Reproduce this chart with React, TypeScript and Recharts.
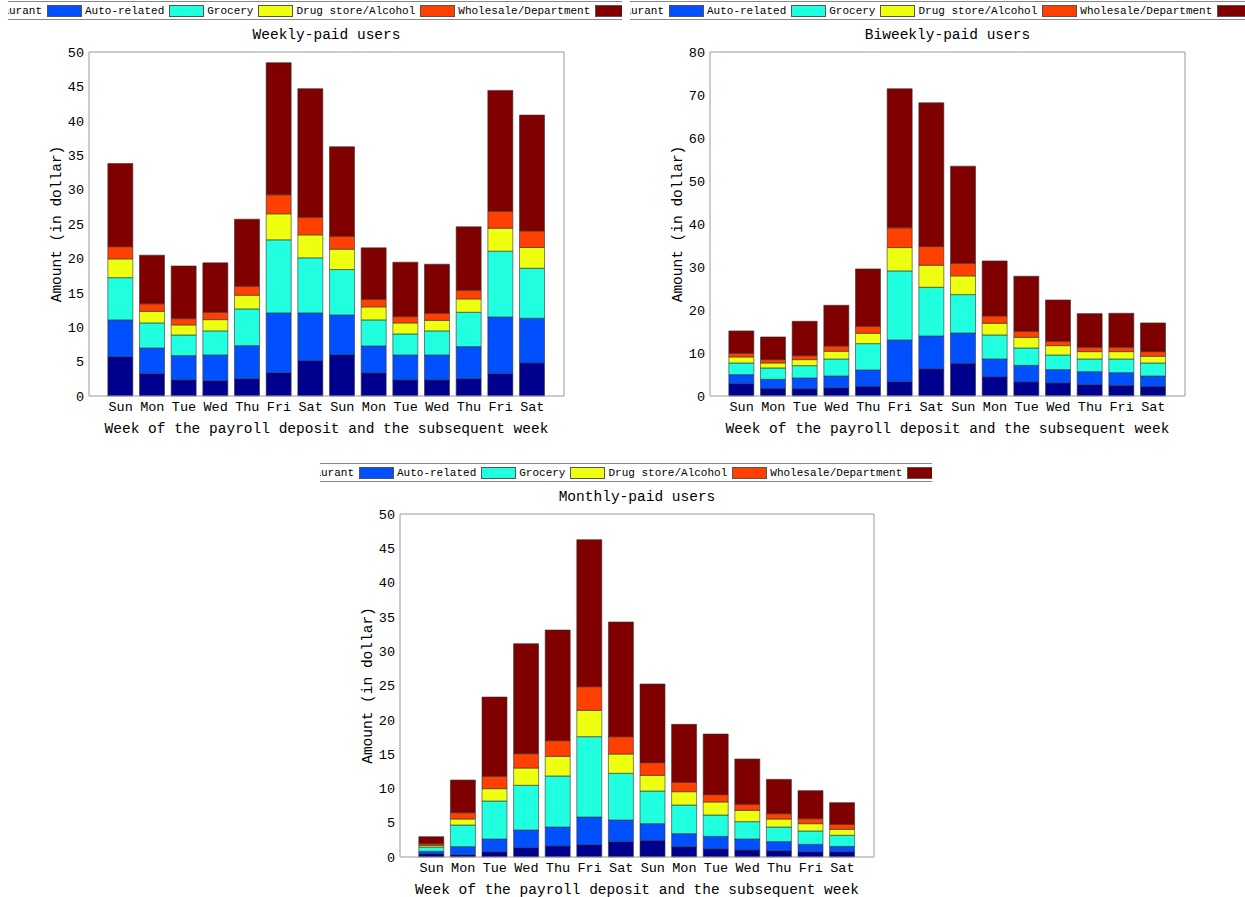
import { BarChart, Bar, XAxis, YAxis } from "recharts";

const FONT = "'Liberation Mono', 'DejaVu Sans Mono', monospace";
const FRAME = "#999";

const days = ["Sun", "Mon", "Tue", "Wed", "Thu", "Fri", "Sat", "Sun", "Mon", "Tue", "Wed", "Thu", "Fri", "Sat"];
const categories = ["Restaurant", "Auto-related", "Grocery", "Drug store/Alcohol", "Wholesale/Department", "Others"];
const colors = ["#00008f", "#0050ff", "#20ffdf", "#efff10", "#ff4000", "#800000"];

// weekly-paid users
const weeklyRestaurant = [5.72, 3.25, 2.33, 2.23, 2.52, 3.4, 5.14, 6.01, 3.35, 2.33, 2.33, 2.52, 3.25, 4.8];
const weeklyAuto = [5.34, 3.73, 3.54, 3.74, 4.8, 8.68, 6.94, 5.77, 3.92, 3.64, 3.64, 4.66, 8.24, 6.5];
const weeklyGrocery = [6.14, 3.64, 3.0, 3.49, 5.34, 10.62, 8.0, 6.6, 3.79, 3.05, 3.49, 4.99, 9.56, 7.27];
const weeklyDrug = [2.73, 1.68, 1.46, 1.64, 1.99, 3.78, 3.34, 2.96, 1.89, 1.6, 1.54, 1.94, 3.34, 3.01];
const weeklyWholesale = [1.77, 1.1, 0.92, 1.07, 1.31, 2.76, 2.57, 1.89, 1.11, 0.92, 1.03, 1.26, 2.48, 2.42];
const weeklyOthers = [12.1, 7.07, 7.65, 7.18, 9.74, 19.21, 18.68, 13.0, 7.47, 7.91, 7.13, 9.22, 17.55, 16.83];

// biweekly-paid users
const biweeklyRestaurant = [2.87, 1.78, 1.71, 1.94, 2.25, 3.34, 6.28, 7.6, 4.42, 3.26, 3.03, 2.64, 2.48, 2.25];
const biweeklyAuto = [2.1, 2.1, 2.48, 2.71, 3.8, 9.69, 7.68, 7.06, 4.19, 3.88, 3.1, 3.02, 2.95, 2.4];
const biweeklyGrocery = [2.71, 2.64, 2.87, 3.96, 6.13, 16.06, 11.33, 8.92, 5.59, 4.03, 3.41, 2.95, 3.18, 3.03];
const biweeklyDrug = [1.4, 1.16, 1.4, 1.79, 2.41, 5.43, 5.12, 4.35, 2.71, 2.48, 2.17, 1.71, 1.71, 1.55];
const biweeklyWholesale = [0.85, 0.78, 0.93, 1.24, 1.62, 4.58, 4.35, 2.95, 1.71, 1.4, 1.01, 1.01, 1.01, 1.09];
const biweeklyOthers = [5.2, 5.27, 7.99, 9.46, 13.35, 32.35, 33.43, 22.57, 12.8, 12.8, 9.62, 7.83, 7.91, 6.67];

// monthly-paid users
const monthlyRestaurant = [0.49, 0.34, 0.78, 1.36, 1.6, 1.8, 2.24, 2.43, 1.51, 1.17, 1.02, 0.92, 0.78, 0.78];
const monthlyAuto = [0.34, 1.17, 1.84, 2.58, 2.77, 4.03, 3.15, 2.43, 1.89, 1.84, 1.6, 1.32, 1.07, 0.77];
const monthlyGrocery = [0.63, 3.15, 5.54, 6.51, 7.44, 11.71, 6.81, 4.76, 4.18, 3.11, 2.53, 2.13, 1.94, 1.61];
const monthlyDrug = [0.24, 0.88, 1.8, 2.52, 2.86, 3.84, 2.81, 2.28, 1.94, 1.9, 1.65, 1.17, 1.07, 0.87];
const monthlyWholesale = [0.24, 0.92, 1.8, 2.09, 2.29, 3.45, 2.53, 1.85, 1.36, 1.07, 0.88, 0.78, 0.73, 0.73];
const monthlyOthers = [1.02, 4.76, 11.56, 16.04, 16.13, 21.43, 16.72, 11.47, 8.46, 8.84, 6.61, 5.0, 4.08, 3.16];

const weeklyTicks = [0, 5, 10, 15, 20, 25, 30, 35, 40, 45, 50];
const biweeklyTicks = [0, 10, 20, 30, 40, 50, 60, 70, 80];
const monthlyTicks = [0, 5, 10, 15, 20, 25, 30, 35, 40, 45, 50];

function buildRows(series: number[][]) {
  return days.map((d, i) => {
    const row: Record<string, number | string> = { idx: i, day: d };
    series.forEach((s, k) => {
      row[`s${k}`] = s[i];
    });
    return row;
  });
}

const weeklyData = buildRows([weeklyRestaurant, weeklyAuto, weeklyGrocery, weeklyDrug, weeklyWholesale, weeklyOthers]);
const biweeklyData = buildRows([biweeklyRestaurant, biweeklyAuto, biweeklyGrocery, biweeklyDrug, biweeklyWholesale, biweeklyOthers]);
const monthlyData = buildRows([monthlyRestaurant, monthlyAuto, monthlyGrocery, monthlyDrug, monthlyWholesale, monthlyOthers]);

function Legend({ left, top, width }: { left: number; top: number; width: number }) {
  return (
    <div
      style={{
        position: "absolute",
        left,
        top,
        width,
        height: 17,
        borderTop: "1px solid #888",
        borderBottom: "1px solid #888",
        overflow: "hidden",
      }}
    >
      <div
        style={{
          position: "absolute",
          left: -70,
          top: 0,
          height: 17,
          display: "flex",
          alignItems: "center",
          whiteSpace: "nowrap",
          fontFamily: FONT,
          fontSize: 11,
          color: "#000",
        }}
      >
        {categories.map((c, i) => (
          <div key={c} style={{ display: "flex", alignItems: "center" }}>
            <div
              style={{
                width: 33,
                height: 10,
                background: colors[i],
                border: "1px solid #555",
                marginRight: 3,
              }}
            />
            <span style={{ marginRight: 5 }}>{c}</span>
          </div>
        ))}
      </div>
    </div>
  );
}

interface PanelProps {
  title: string;
  data: Record<string, number | string>[];
  ticks: number[];
  left: number;
  top: number;
  width: number;
  height: number;
  margin: { top: number; right: number; bottom: number; left: number };
}

function Panel({ title, data, ticks, left, top, width, height, margin }: PanelProps) {
  const domain = [ticks[0], ticks[ticks.length - 1]];
  const plotLeft = left + margin.left + 45;
  const plotRight = left + width - margin.right;
  const tickStyle = { fill: "#000", fontSize: 13.5, fontFamily: FONT };
  const pad = (plotRight - plotLeft) / 15 / 2;
  return (
    <>
      <div
        style={{
          position: "absolute",
          left: plotLeft,
          width: plotRight - plotLeft,
          top: top + margin.top - 26,
          lineHeight: "18px",
          textAlign: "center",
          fontFamily: FONT,
          fontSize: 14.5,
          color: "#000",
        }}
      >
        {title}
      </div>
      <div style={{ position: "absolute", left, top }}>
        <BarChart width={width} height={height} data={data} margin={margin} barSize={25}>
          <XAxis
            xAxisId="x"
            dataKey="idx"
            interval={0}
            padding={{ left: pad, right: pad }}
            tickFormatter={(_v: unknown, i: number) => days[i]}
            tickLine={false}
            tickSize={3}
            tickMargin={2}
            axisLine={{ stroke: FRAME }}
            height={40}
            tick={tickStyle}
            label={{
              value: "Week of the payroll deposit and the subsequent week",
              position: "insideBottom",
              offset: 3,
              style: { fill: "#000", fontSize: 14.5, fontFamily: FONT },
            }}
          />
          <XAxis
            xAxisId="top"
            orientation="top"
            mirror
            dataKey="idx"
            interval={0}
            padding={{ left: pad, right: pad }}
            tick={false}
            tickSize={5}
            tickLine={{ stroke: FRAME }}
            axisLine={{ stroke: FRAME }}
          />
          <YAxis
            yAxisId="y"
            domain={domain}
            ticks={ticks}
            width={45}
            tickLine={false}
            tickSize={3}
            tickMargin={2}
            axisLine={{ stroke: FRAME }}
            tick={tickStyle}
            label={{
              value: "Amount (in dollar)",
              angle: -90,
              position: "insideLeft",
              offset: 12,
              style: { textAnchor: "middle", fill: "#000", fontSize: 14.5, fontFamily: FONT },
            }}
          />
          <YAxis
            yAxisId="yl"
            orientation="left"
            mirror
            domain={domain}
            ticks={ticks}
            tick={false}
            tickSize={5}
            tickLine={{ stroke: FRAME }}
            axisLine={false}
          />
          <YAxis
            yAxisId="yr"
            orientation="right"
            mirror
            domain={domain}
            ticks={ticks}
            tick={false}
            tickSize={5}
            tickLine={{ stroke: FRAME }}
            axisLine={{ stroke: FRAME }}
          />
          {categories.map((c, k) => (
            <Bar
              key={c}
              name={c}
              dataKey={`s${k}`}
              stackId="a"
              xAxisId="x"
              yAxisId="y"
              fill={colors[k]}
              stroke="#333"
              strokeWidth={0.6}
              isAnimationActive={false}
            />
          ))}
        </BarChart>
      </div>
    </>
  );
}

export default function App() {
  return (
    <div
      style={{
        position: "absolute",
        left: 0,
        top: 0,
        width: 1245,
        height: 897,
        background: "#fff",
        overflow: "hidden",
      }}
    >
      <Legend left={8} top={1} width={614} />
      <Legend left={630} top={1} width={615} />
      <Legend left={320} top={463} width={612} />
      <Panel
        title="Weekly-paid users"
        data={weeklyData}
        ticks={weeklyTicks}
        left={0}
        top={0}
        width={620}
        height={450}
        margin={{ top: 52, right: 56, bottom: 14, left: 44 }}
      />
      <Panel
        title="Biweekly-paid users"
        data={biweeklyData}
        ticks={biweeklyTicks}
        left={620}
        top={0}
        width={625}
        height={450}
        margin={{ top: 52, right: 60, bottom: 14, left: 45 }}
      />
      <Panel
        title="Monthly-paid users"
        data={monthlyData}
        ticks={monthlyTicks}
        left={310}
        top={462}
        width={620}
        height={435}
        margin={{ top: 52, right: 56, bottom: 0, left: 45 }}
      />
    </div>
  );
}
